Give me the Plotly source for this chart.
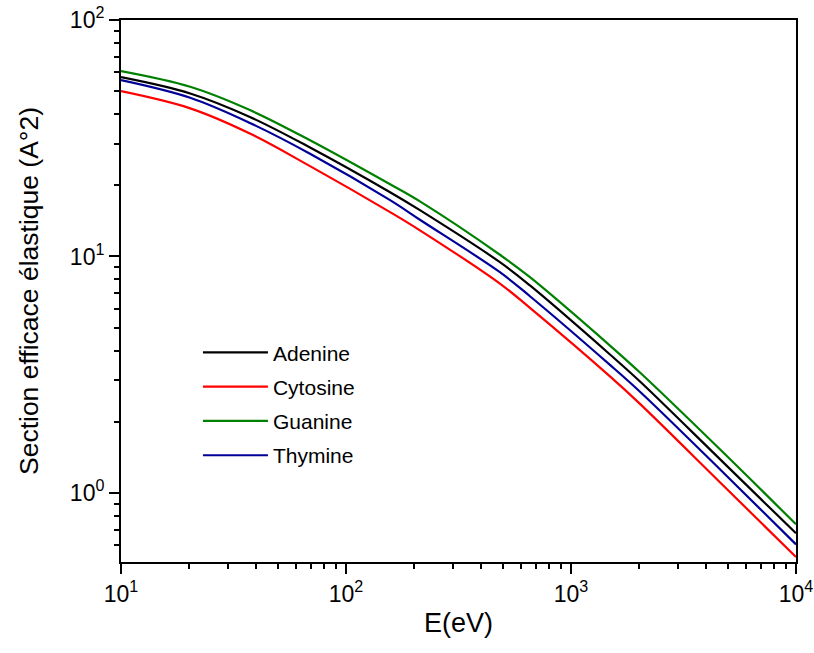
import plotly.graph_objects as go

energy = [10, 20.3, 37.4, 69.2, 157, 213, 483, 657, 1490, 2026, 4590, 10000]
adenine = [57.3, 48.9, 38.9, 28.9, 18.7, 15.7, 9.46, 7.54, 3.85, 2.96, 1.39, 0.675]
cytosine = [50.0, 42.3, 33.1, 24.1, 15.4, 12.9, 7.68, 6.06, 3.11, 2.38, 1.11, 0.536]
guanine = [60.8, 52.2, 41.6, 31.0, 20.2, 17.1, 10.17, 8.17, 4.20, 3.23, 1.53, 0.737]
thymine = [55.7, 46.9, 36.7, 27.2, 17.3, 14.3, 8.58, 6.79, 3.48, 2.68, 1.26, 0.606]

names = ["Adenine", "Cytosine", "Guanine", "Thymine"]
colors = ["#000000", "#ff0000", "#008000", "#000099"]
series = [adenine, cytosine, guanine, thymine]

x_tickvals = [10, 100, 1000, 10000]
x_ticktext = ["10<sup>1</sup>", "10<sup>2</sup>", "10<sup>3</sup>", "10<sup>4</sup>"]
x_minor = [m * d for d in (10, 100, 1000) for m in range(2, 10)]
y_tickvals = [1, 10, 100]
y_ticktext = ["10<sup>0</sup>", "10<sup>1</sup>", "10<sup>2</sup>"]
y_minor = [0.6, 0.7, 0.8, 0.9] + [m * d for d in (1, 10) for m in range(2, 10)]

fig = go.Figure()
for n, c, s in zip(names, colors, series):
    fig.add_trace(go.Scatter(x=energy, y=s, mode="lines", name=n, legendgroup=n,
                             line=dict(color=c, width=2.2, shape="spline", smoothing=1.0)))

font_family = "Liberation Sans, Arial, sans-serif"
axis_common = dict(
    type="log", showline=True, linecolor="black", linewidth=2, mirror=True,
    ticks="outside", ticklen=10, tickwidth=2, tickcolor="black",
    showgrid=False, zeroline=False, automargin=False,
    ticklabeloverflow="allow",
    tickfont=dict(size=23, color="black"),
)
fig.update_layout(
    width=814, height=653,
    margin=dict(l=121, r=18, t=20, b=91),
    plot_bgcolor="white", paper_bgcolor="white",
    font=dict(family=font_family, color="black", size=20),
    showlegend=True,
    legend=dict(x=0.114, y=0.424, xanchor="left", yanchor="top",
                bgcolor="rgba(0,0,0,0)", font=dict(size=21, color="black"),
                itemwidth=65, tracegroupgap=4),
    xaxis=dict(**axis_common, range=[1, 4],
               tickvals=x_tickvals, ticktext=x_ticktext,
               minor=dict(tickvals=x_minor, ticks="outside", ticklen=5, tickwidth=2,
                          tickcolor="black", showgrid=False),
               title=dict(text="E(eV)", font=dict(size=27), standoff=8)),
    yaxis=dict(**axis_common, range=[-0.292, 2],
               tickvals=y_tickvals, ticktext=y_ticktext,
               minor=dict(tickvals=y_minor, ticks="outside", ticklen=5, tickwidth=2,
                          tickcolor="black", showgrid=False),
               title=dict(text="Section efficace élastique (A°2)", font=dict(size=26.5), standoff=24)),
)

fig.write_html("out.html",
               config={"displayModeBar": False},
               post_script="document.body.style.margin='0';document.body.style.overflow='hidden';")
